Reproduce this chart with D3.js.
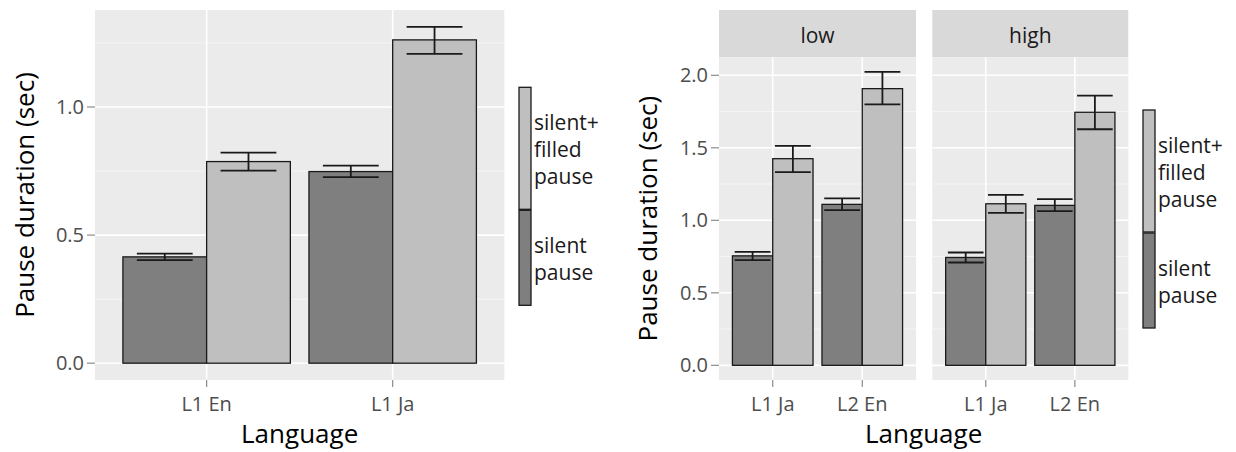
<!DOCTYPE html>
<html>
<head>
<meta charset="utf-8">
<script src="https://cdn.jsdelivr.net/npm/d3@7"></script>
<style>
  html, body { margin: 0; padding: 0; background: #ffffff; }
  svg { display: block; font-family: "Open Sans", "Noto Sans", sans-serif; }
</style>
</head>
<body>
<svg id="chart" width="1236" height="452"></svg>
<script>
// ---------------- data ----------------
const pauseTypes = ["silent pause", "silent+filled pause"];
const legendLabels = [["silent", "pause"], ["silent+", "filled", "pause"]];
const yAxisTitle = "Pause duration (sec)";
const xAxisTitle = "Language";

// Left chart
const leftCategories = ["L1 En", "L1 Ja"];
const leftSilentMean   = [0.415, 0.748];
const leftSilentLower  = [0.402, 0.726];
const leftSilentUpper  = [0.428, 0.771];
const leftFilledMean   = [0.787, 1.262];
const leftFilledLower  = [0.752, 1.207];
const leftFilledUpper  = [0.822, 1.313];
const leftTicks = [0.0, 0.5, 1.0];

// Right chart (faceted)
const facets = ["low", "high"];
const rightCategories = ["L1 Ja", "L2 En"];
const lowSilentMean   = [0.755, 1.110];
const lowSilentLower  = [0.725, 1.070];
const lowSilentUpper  = [0.782, 1.151];
const lowFilledMean   = [1.425, 1.908];
const lowFilledLower  = [1.333, 1.800];
const lowFilledUpper  = [1.514, 2.023];
const highSilentMean  = [0.744, 1.103];
const highSilentLower = [0.709, 1.063];
const highSilentUpper = [0.778, 1.146];
const highFilledMean  = [1.114, 1.745];
const highFilledLower = [1.052, 1.628];
const highFilledUpper = [1.176, 1.860];
const rightTicks = [0.0, 0.5, 1.0, 1.5, 2.0];

// ---------------- style ----------------
const fills = { "silent pause": "#7f7f7f", "silent+filled pause": "#bfbfbf" };
const panelBg = "#ebebeb";
const stripBg = "#d9d9d9";
const tickColor = "#4d4d4d";
const svg = d3.select("#chart");

function buildRows(cats, sm, sl, su, fm, fl, fu) {
  const rows = [];
  cats.forEach((c, i) => {
    rows.push({ cat: c, type: pauseTypes[0], mean: sm[i], lo: sl[i], hi: su[i] });
    rows.push({ cat: c, type: pauseTypes[1], mean: fm[i], lo: fl[i], hi: fu[i] });
  });
  return rows;
}

function makeY(rows, top, bottom) {
  const maxV = d3.max(rows, d => d.hi);
  const pad = maxV * 0.05;
  return d3.scaleLinear().domain([-pad, maxV + pad]).range([bottom, top]);
}

function drawPanel(g, rows, cats, y, ticks, x0, x1, top, bottom, capFrac) {
  const xs = d3.scaleLinear().domain([0.4, cats.length + 0.6]).range([x0, x1]);
  const pos = d3.scaleOrdinal().domain(cats).range(cats.map((c, i) => i + 1));
  const sub = d3.scaleBand().domain(pauseTypes).range([-0.45, 0.45]).padding(0);

  g.append("rect").attr("x", x0).attr("y", top).attr("width", x1 - x0).attr("height", bottom - top)
    .attr("fill", panelBg);

  const minor = ticks.slice(0, -1).map((t, i) => (t + ticks[i + 1]) / 2);
  const last = ticks[ticks.length - 1] + (ticks[1] - ticks[0]) / 2;
  if (y(last) > top) minor.push(last);
  g.selectAll(".minor").data(minor).enter().append("line")
    .attr("x1", x0).attr("x2", x1).attr("y1", d => y(d)).attr("y2", d => y(d))
    .attr("stroke", "#f5f5f5").attr("stroke-width", 1);
  g.selectAll(".major").data(ticks).enter().append("line")
    .attr("x1", x0).attr("x2", x1).attr("y1", d => y(d)).attr("y2", d => y(d))
    .attr("stroke", "#ffffff").attr("stroke-width", 1.6);
  g.selectAll(".vmajor").data(cats).enter().append("line")
    .attr("x1", d => xs(pos(d))).attr("x2", d => xs(pos(d)))
    .attr("y1", top).attr("y2", bottom)
    .attr("stroke", "#ffffff").attr("stroke-width", 1.6);

  const unit = xs(1) - xs(0);
  g.selectAll(".bar").data(rows).enter().append("rect")
    .attr("x", d => xs(pos(d.cat) + sub(d.type)))
    .attr("width", sub.bandwidth() * unit)
    .attr("y", d => y(d.mean))
    .attr("height", d => y(0) - y(d.mean))
    .attr("fill", d => fills[d.type])
    .attr("stroke", "#1a1a1a").attr("stroke-width", 1.3);

  const cx = d => xs(pos(d.cat) + sub(d.type) + sub.bandwidth() / 2);
  const cap = capFrac * unit / 2;
  const eb = g.selectAll(".eb").data(rows).enter().append("g");
  eb.append("line").attr("x1", cx).attr("x2", cx).attr("y1", d => y(d.lo)).attr("y2", d => y(d.hi));
  eb.append("line").attr("x1", d => cx(d) - cap).attr("x2", d => cx(d) + cap).attr("y1", d => y(d.lo)).attr("y2", d => y(d.lo));
  eb.append("line").attr("x1", d => cx(d) - cap).attr("x2", d => cx(d) + cap).attr("y1", d => y(d.hi)).attr("y2", d => y(d.hi));
  eb.selectAll("line").attr("stroke", "#1a1a1a").attr("stroke-width", 1.8);

  g.selectAll(".xt").data(cats).enter().append("line")
    .attr("x1", d => xs(pos(d))).attr("x2", d => xs(pos(d)))
    .attr("y1", bottom).attr("y2", bottom + 7)
    .attr("stroke", "#8c8c8c").attr("stroke-width", 1.2);
  g.selectAll(".xl").data(cats).enter().append("text")
    .attr("x", d => xs(pos(d))).attr("y", 411)
    .attr("text-anchor", "middle").attr("font-size", 20).attr("fill", tickColor)
    .text(d => d);
  return xs;
}

function drawYAxis(g, y, ticks, x0) {
  g.selectAll(".yt").data(ticks).enter().append("line")
    .attr("x1", x0 - 8).attr("x2", x0).attr("y1", d => y(d)).attr("y2", d => y(d))
    .attr("stroke", "#8c8c8c").attr("stroke-width", 1.2);
  g.selectAll(".yl").data(ticks).enter().append("text")
    .attr("x", x0 - 11).attr("y", d => y(d)).attr("dy", "0.35em")
    .attr("text-anchor", "end").attr("font-size", 20).attr("fill", tickColor)
    .text(d => d3.format(".1f")(d));
}

function drawLegend(g, x, top, textX) {
  const lineH = 27;
  let yy = top;
  const order = [1, 0];
  order.forEach(k => {
    const lines = legendLabels[k];
    const h = lines.length * lineH + 41;
    g.append("rect").attr("x", x).attr("y", yy).attr("width", 12).attr("height", h)
      .attr("fill", fills[pauseTypes[k]]).attr("stroke", "#1a1a1a").attr("stroke-width", 1.3);
    const cy = yy + h / 2;
    lines.forEach((ln, j) => {
      g.append("text").attr("x", textX)
        .attr("y", cy + (j - (lines.length - 1) / 2) * lineH + 2)
        .attr("dy", "0.32em").attr("font-size", 21).attr("fill", "#1a1a1a").text(ln);
    });
    yy += h + 1;
  });
}

function title(g, x, y, rotate) {
  const t = g.append("text").attr("text-anchor", "middle").attr("font-size", 26).attr("fill", "#000");
  if (rotate) t.attr("transform", `translate(${x},${y}) rotate(-90)`).attr("dy", "0.35em").text(yAxisTitle);
  else t.attr("x", x).attr("y", y).text(xAxisTitle);
}

// ---------------- left chart ----------------
{
  const g = svg.append("g");
  const rows = buildRows(leftCategories, leftSilentMean, leftSilentLower, leftSilentUpper,
                         leftFilledMean, leftFilledLower, leftFilledUpper);
  const top = 10, bottom = 380, x0 = 95, x1 = 504.3;
  const y = makeY(rows, top, bottom);
  drawPanel(g, rows, leftCategories, y, leftTicks, x0, x1, top, bottom, 0.30);
  drawYAxis(g, y, leftTicks, x0);
  drawLegend(g, 519, 87.3, 534);
  title(g, 25, (top + bottom) / 2, true);
  title(g, (x0 + x1) / 2, 443, false);
}

// ---------------- right chart ----------------
{
  const g = svg.append("g");
  const top = 57.3, bottom = 380, stripTop = 10;
  const panels = [
    { name: facets[0], x0: 719, x1: 916,
      rows: buildRows(rightCategories, lowSilentMean, lowSilentLower, lowSilentUpper,
                      lowFilledMean, lowFilledLower, lowFilledUpper) },
    { name: facets[1], x0: 932.3, x1: 1128.3,
      rows: buildRows(rightCategories, highSilentMean, highSilentLower, highSilentUpper,
                      highFilledMean, highFilledLower, highFilledUpper) }
  ];
  const allRows = panels.flatMap(p => p.rows);
  const y = makeY(allRows, top, bottom);
  panels.forEach(p => {
    g.append("rect").attr("x", p.x0).attr("y", stripTop).attr("width", p.x1 - p.x0)
      .attr("height", top - stripTop).attr("fill", stripBg);
    g.append("text").attr("x", (p.x0 + p.x1) / 2).attr("y", 43)
      .attr("text-anchor", "middle").attr("font-size", 21).attr("fill", "#1a1a1a").text(p.name);
    drawPanel(g, p.rows, rightCategories, y, rightTicks, p.x0, p.x1, top, bottom, 0.40);
  });
  drawYAxis(g, y, rightTicks, 719);
  drawLegend(g, 1143, 110, 1158);
  title(g, 648, (top + bottom) / 2, true);
  title(g, (719 + 1128.3) / 2, 443, false);
}
</script>
</body>
</html>
